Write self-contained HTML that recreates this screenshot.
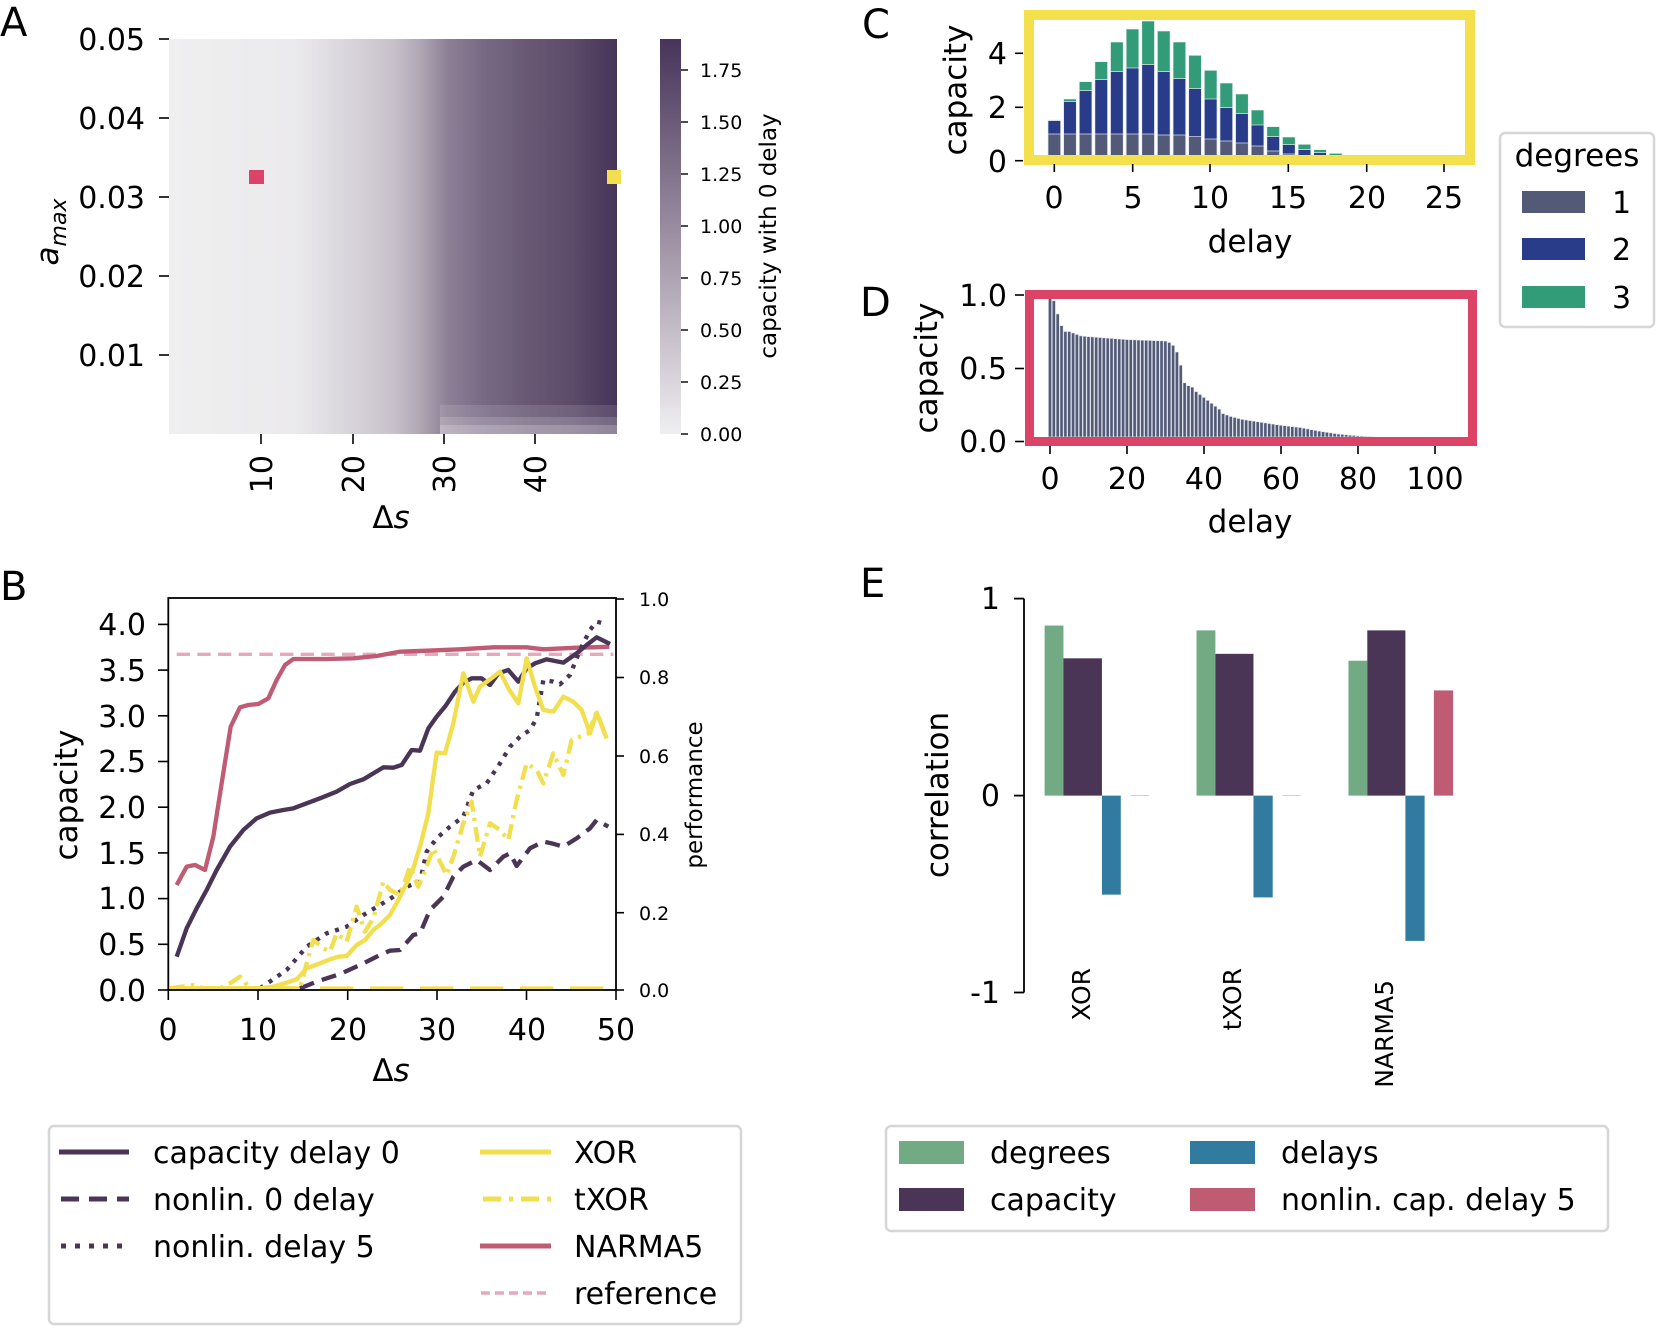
<!DOCTYPE html>
<html><head><meta charset="utf-8"><style>
html,body{margin:0;padding:0;background:#fff}
svg text{font-family:"DejaVu Sans","Liberation Sans",sans-serif;fill:#000}
</style></head><body>
<svg id="s" width="1656" height="1326" viewBox="0 0 1656 1326" xmlns="http://www.w3.org/2000/svg">
<defs>
<linearGradient id="hm" x1="0" x2="1" y1="0" y2="0">
<stop offset="0" stop-color="#efeff0"/>
<stop offset="0.28" stop-color="#ebeaec"/>
<stop offset="0.40" stop-color="#d9d5dc"/>
<stop offset="0.50" stop-color="#c8c1cb"/>
<stop offset="0.56" stop-color="#b0a7b5"/>
<stop offset="0.62" stop-color="#8e8196"/>
<stop offset="0.70" stop-color="#786a85"/>
<stop offset="0.80" stop-color="#685874"/>
<stop offset="0.90" stop-color="#5c4c6a"/>
<stop offset="0.96" stop-color="#4e3d5e"/>
<stop offset="1" stop-color="#46345a"/>
</linearGradient>
<linearGradient id="cb" x1="0" x2="0" y1="1" y2="0">
<stop offset="0" stop-color="#efeff0"/>
<stop offset="0.5" stop-color="#9d90a3"/>
<stop offset="1" stop-color="#46345a"/>
</linearGradient>
</defs>

<!-- Panel A -->
<text x="0" y="36" font-size="40">A</text>
<rect x="169" y="39" width="448" height="395" fill="url(#hm)"/>
<rect x="440" y="405" width="177" height="12" fill="#fff" opacity="0.12"/>
<rect x="440" y="417" width="177" height="8" fill="#fff" opacity="0.25"/>
<rect x="440" y="425" width="177" height="9" fill="#fff" opacity="0.4"/>
<rect x="249" y="170" width="15" height="14" fill="#dc4467"/>
<rect x="607" y="170" width="14" height="14" fill="#f2df4f"/>
<g stroke="#000" stroke-width="1.6">
<line x1="159" y1="39" x2="169" y2="39"/><line x1="159" y1="118" x2="169" y2="118"/>
<line x1="159" y1="197" x2="169" y2="197"/><line x1="159" y1="276" x2="169" y2="276"/>
<line x1="159" y1="355" x2="169" y2="355"/>
<line x1="261" y1="434" x2="261" y2="444"/><line x1="353" y1="434" x2="353" y2="444"/>
<line x1="444" y1="434" x2="444" y2="444"/><line x1="535" y1="434" x2="535" y2="444"/>
</g>
<g font-size="30" text-anchor="end">
<text x="145" y="50">0.05</text><text x="145" y="129">0.04</text><text x="145" y="208">0.03</text>
<text x="145" y="287">0.02</text><text x="145" y="366">0.01</text>
</g>
<g font-size="30" text-anchor="end">
<text transform="translate(272,455) rotate(-90)">10</text>
<text transform="translate(364,455) rotate(-90)">20</text>
<text transform="translate(455,455) rotate(-90)">30</text>
<text transform="translate(546,455) rotate(-90)">40</text>
</g>
<text x="391" y="528" font-size="31" text-anchor="middle">Δ<tspan font-style="italic">s</tspan></text>
<text transform="translate(58,232) rotate(-90)" font-size="31" text-anchor="middle"><tspan font-style="italic">a</tspan><tspan font-size="22" dy="8" font-style="italic">max</tspan></text>
<rect x="660" y="39" width="21" height="395" fill="url(#cb)"/>
<g stroke="#000" stroke-width="1.4">
<line x1="681" y1="434" x2="688" y2="434"/><line x1="681" y1="382" x2="688" y2="382"/>
<line x1="681" y1="330" x2="688" y2="330"/><line x1="681" y1="278" x2="688" y2="278"/>
<line x1="681" y1="226" x2="688" y2="226"/><line x1="681" y1="174" x2="688" y2="174"/>
<line x1="681" y1="122" x2="688" y2="122"/><line x1="681" y1="70" x2="688" y2="70"/>
</g>
<g font-size="19">
<text x="700" y="441">0.00</text><text x="700" y="389">0.25</text><text x="700" y="337">0.50</text>
<text x="700" y="285">0.75</text><text x="700" y="233">1.00</text><text x="700" y="181">1.25</text>
<text x="700" y="129">1.50</text><text x="700" y="77">1.75</text>
</g>
<text transform="translate(776,236) rotate(-90)" font-size="23" text-anchor="middle">capacity with 0 delay</text>

<!-- Panel B -->
<text x="0" y="600" font-size="40">B</text>
<g transform="translate(160,590) scale(0.33333)" fill="none" stroke-linejoin="round">
<line x1="30" y1="1195" x2="1365" y2="1195" stroke="#f2df4f" stroke-width="12" stroke-dasharray="100,50"/>
<line x1="50" y1="193" x2="1360" y2="193" stroke="#e4aabb" stroke-width="10" stroke-dasharray="40,22"/>
<polyline stroke="#c05b74" stroke-width="13" points="50,885 80,830 105,825 135,840 160,740 185,580 212,410 240,352 265,345 295,342 325,325 350,270 375,225 400,207 500,207 580,205 650,198 720,185 800,182 900,178 1000,172 1100,172 1150,178 1250,173 1300,172 1348,170"/>
<polyline stroke="#4a3557" stroke-width="13" points="50,1100 80,1015 110,955 140,900 170,840 210,770 250,720 290,685 330,668 370,660 400,655 440,640 480,625 530,605 570,582 610,568 640,550 670,532 700,533 725,525 755,480 780,482 805,415 830,380 855,350 885,305 910,278 935,265 965,265 990,285 1015,250 1045,240 1075,275 1100,235 1125,220 1160,208 1210,218 1250,190 1280,165 1310,142 1350,162"/>
<polyline stroke="#4a3557" stroke-width="13" stroke-dasharray="12,20" points="300,1195 380,1140 440,1070 500,1030 560,1010 610,975 660,945 700,920 740,890 780,875 800,785 830,745 870,710 910,680 940,600 980,580 1020,520 1050,470 1080,440 1110,420 1130,385 1150,270 1180,275 1200,283 1230,255 1260,180 1290,120 1310,95 1330,100"/>
<polyline stroke="#4a3557" stroke-width="13" stroke-dasharray="45,25" points="420,1195 470,1175 540,1152 600,1125 660,1095 690,1082 720,1080 760,1035 780,1030 810,960 850,920 880,860 910,830 950,810 990,840 1030,800 1050,790 1070,828 1110,775 1150,755 1175,760 1210,770 1250,745 1290,715 1310,690 1345,710"/>
<polyline stroke="#f2df4f" stroke-width="13" points="30,1195 300,1195 340,1190 380,1178 410,1168 440,1135 480,1120 510,1108 535,1100 560,1098 590,1065 615,1050 640,1020 665,1000 690,975 715,930 740,880 760,835 780,770 805,670 830,488 855,490 880,400 910,250 940,335 960,290 990,268 1020,245 1045,295 1075,340 1100,205 1125,290 1150,360 1180,365 1210,320 1240,335 1265,360 1290,430 1310,368 1340,445"/>
<polyline stroke="#f2df4f" stroke-width="13" stroke-dasharray="45,18,10,18" points="30,1195 100,1185 130,1195 180,1195 210,1180 240,1160 270,1195 350,1195 420,1195 440,1120 460,1050 490,1075 510,1085 530,1030 560,1055 590,950 615,1025 640,985 670,875 690,900 720,915 750,830 775,890 800,830 820,775 860,855 880,800 910,700 935,635 960,800 990,700 1020,720 1045,750 1070,630 1100,520 1130,540 1150,580 1180,490 1210,555 1235,450 1260,440 1285,430 1310,365 1340,445"/>
</g>
<rect x="168.3" y="598" width="447.7" height="392" fill="none" stroke="#000" stroke-width="1.8"/>
<g stroke="#000" stroke-width="1.6">
<line x1="158" y1="990" x2="168" y2="990"/><line x1="158" y1="944.3" x2="168" y2="944.3"/>
<line x1="158" y1="898.6" x2="168" y2="898.6"/><line x1="158" y1="852.9" x2="168" y2="852.9"/>
<line x1="158" y1="807.2" x2="168" y2="807.2"/><line x1="158" y1="761.5" x2="168" y2="761.5"/>
<line x1="158" y1="715.8" x2="168" y2="715.8"/><line x1="158" y1="670.1" x2="168" y2="670.1"/>
<line x1="158" y1="624.4" x2="168" y2="624.4"/>
<line x1="168.3" y1="990" x2="168.3" y2="1000"/><line x1="258" y1="990" x2="258" y2="1000"/>
<line x1="347.7" y1="990" x2="347.7" y2="1000"/><line x1="437" y1="990" x2="437" y2="1000"/>
<line x1="526.5" y1="990" x2="526.5" y2="1000"/><line x1="616" y1="990" x2="616" y2="1000"/>
<line x1="616" y1="990" x2="624" y2="990"/><line x1="616" y1="912.7" x2="624" y2="912.7"/>
<line x1="616" y1="834.4" x2="624" y2="834.4"/><line x1="616" y1="756" x2="624" y2="756"/>
<line x1="616" y1="677.5" x2="624" y2="677.5"/><line x1="616" y1="599" x2="624" y2="599"/>
</g>
<g font-size="30" text-anchor="end">
<text x="146" y="1001">0.0</text><text x="146" y="955">0.5</text><text x="146" y="909">1.0</text>
<text x="146" y="864">1.5</text><text x="146" y="818">2.0</text><text x="146" y="772">2.5</text>
<text x="146" y="727">3.0</text><text x="146" y="681">3.5</text><text x="146" y="635">4.0</text>
</g>
<g font-size="30" text-anchor="middle">
<text x="168" y="1040">0</text><text x="258" y="1040">10</text><text x="348" y="1040">20</text>
<text x="437" y="1040">30</text><text x="527" y="1040">40</text><text x="616" y="1040">50</text>
</g>
<g font-size="19">
<text x="639" y="997">0.0</text><text x="639" y="920">0.2</text><text x="639" y="841">0.4</text>
<text x="639" y="763">0.6</text><text x="639" y="684">0.8</text><text x="639" y="606">1.0</text>
</g>
<text x="391" y="1081" font-size="31" text-anchor="middle">Δ<tspan font-style="italic">s</tspan></text>
<text transform="translate(77,795) rotate(-90)" font-size="31" text-anchor="middle">capacity</text>
<text transform="translate(702,795) rotate(-90)" font-size="23" text-anchor="middle">performance</text>

<!-- Legend B -->
<rect x="49" y="1126" width="692" height="198" rx="5" fill="#fff" stroke="#d6d6d6" stroke-width="2.5"/>
<g stroke-width="5" fill="none">
<line x1="59" y1="1152" x2="129" y2="1152" stroke="#4a3557"/>
<line x1="61" y1="1199" x2="129" y2="1199" stroke="#4a3557" stroke-dasharray="18,10"/>
<line x1="61" y1="1246" x2="129" y2="1246" stroke="#4a3557" stroke-dasharray="5,9"/>
<line x1="480" y1="1152" x2="551" y2="1152" stroke="#f2df4f"/>
<line x1="483" y1="1199" x2="551" y2="1199" stroke="#f2df4f" stroke-dasharray="18,8,4,8"/>
<line x1="480" y1="1246" x2="551" y2="1246" stroke="#c05b74"/>
<line x1="481" y1="1293" x2="547" y2="1293" stroke="#e4aabb" stroke-width="3.5" stroke-dasharray="9,5"/>
</g>
<g font-size="30">
<text x="153" y="1163">capacity delay 0</text><text x="153" y="1210">nonlin. 0 delay</text>
<text x="153" y="1257">nonlin. delay 5</text>
<text x="574" y="1163">XOR</text><text x="574" y="1210">tXOR</text><text x="574" y="1257">NARMA5</text>
<text x="574" y="1304">reference</text>
</g>

<!-- Panel C -->
<text x="862" y="38" font-size="40">C</text>
<g transform="translate(1020,0) scale(0.33333)" id="cbars" stroke="#e8ecf0" stroke-width="2"></g>
<rect x="1029" y="15" width="441" height="145" fill="none" stroke="#f4df4c" stroke-width="10"/>
<g stroke="#000" stroke-width="1.6">
<line x1="1015" y1="53.3" x2="1023" y2="53.3"/><line x1="1015" y1="107.3" x2="1023" y2="107.3"/>
<line x1="1015" y1="160.7" x2="1023" y2="160.7"/>
<line x1="1054.3" y1="164" x2="1054.3" y2="172"/><line x1="1132.7" y1="164" x2="1132.7" y2="172"/>
<line x1="1210" y1="164" x2="1210" y2="172"/><line x1="1288.3" y1="164" x2="1288.3" y2="172"/>
<line x1="1366.7" y1="164" x2="1366.7" y2="172"/><line x1="1444" y1="164" x2="1444" y2="172"/>
</g>
<g font-size="30" text-anchor="end">
<text x="1007" y="64">4</text><text x="1007" y="118">2</text><text x="1007" y="172">0</text>
</g>
<g font-size="30" text-anchor="middle">
<text x="1054" y="208">0</text><text x="1133" y="208">5</text><text x="1210" y="208">10</text>
<text x="1288" y="208">15</text><text x="1367" y="208">20</text><text x="1444" y="208">25</text>
</g>
<text x="1250" y="252" font-size="31" text-anchor="middle">delay</text>
<text transform="translate(966,90) rotate(-90)" font-size="31" text-anchor="middle">capacity</text>

<!-- degrees legend -->
<rect x="1500" y="133" width="154" height="194" rx="5" fill="#fff" stroke="#d6d6d6" stroke-width="2.5"/>
<text x="1577" y="166" font-size="31" text-anchor="middle">degrees</text>
<rect x="1522" y="191" width="63" height="22" fill="#525a78"/>
<rect x="1522" y="238" width="63" height="22" fill="#283c8a"/>
<rect x="1522" y="286" width="63" height="22" fill="#329b77"/>
<g font-size="30"><text x="1612" y="213">1</text><text x="1612" y="260">2</text><text x="1612" y="308">3</text></g>

<!-- Panel D -->
<text x="860" y="316" font-size="40">D</text>
<g id="dbars" fill="#525a78" stroke="#dfe3ea" stroke-width="0.6"></g>
<rect x="1029.5" y="294.5" width="443" height="147" fill="none" stroke="#dc4467" stroke-width="9"/>
<g stroke="#000" stroke-width="1.6">
<line x1="1015" y1="295" x2="1024" y2="295"/><line x1="1015" y1="368.5" x2="1024" y2="368.5"/>
<line x1="1015" y1="441.5" x2="1024" y2="441.5"/>
<line x1="1050" y1="446" x2="1050" y2="454"/><line x1="1127" y1="446" x2="1127" y2="454"/>
<line x1="1204" y1="446" x2="1204" y2="454"/><line x1="1281" y1="446" x2="1281" y2="454"/>
<line x1="1358" y1="446" x2="1358" y2="454"/><line x1="1435" y1="446" x2="1435" y2="454"/>
</g>
<g font-size="30" text-anchor="end">
<text x="1007" y="306">1.0</text><text x="1007" y="379">0.5</text><text x="1007" y="452">0.0</text>
</g>
<g font-size="30" text-anchor="middle">
<text x="1050" y="489">0</text><text x="1127" y="489">20</text><text x="1204" y="489">40</text>
<text x="1281" y="489">60</text><text x="1358" y="489">80</text><text x="1435" y="489">100</text>
</g>
<text x="1250" y="532" font-size="31" text-anchor="middle">delay</text>
<text transform="translate(937,368) rotate(-90)" font-size="31" text-anchor="middle">capacity</text>

<!-- Panel E -->
<text x="860" y="597" font-size="40">E</text>
<g transform="translate(880,560) scale(0.384615,0.345)">
<rect x="428" y="190" width="49" height="493" fill="#72ab83"/>
<rect x="477" y="285" width="100" height="398" fill="#4a3557"/>
<rect x="577" y="683" width="49" height="287" fill="#327ba0"/>
<rect x="651" y="681" width="48" height="3" fill="#f0c4d0"/>
<rect x="823" y="204" width="49" height="479" fill="#72ab83"/>
<rect x="872" y="272" width="99" height="411" fill="#4a3557"/>
<rect x="971" y="683" width="50" height="295" fill="#327ba0"/>
<rect x="1046" y="681" width="48" height="3" fill="#f0c4d0"/>
<rect x="1218" y="292" width="49" height="391" fill="#72ab83"/>
<rect x="1267" y="204" width="99" height="479" fill="#4a3557"/>
<rect x="1366" y="683" width="50" height="421" fill="#327ba0"/>
<rect x="1440" y="378" width="50" height="305" fill="#c05b74"/>
</g>
<g stroke="#000" stroke-width="1.8">
<line x1="1024" y1="598.6" x2="1024" y2="992.5"/>
<line x1="1014" y1="598.6" x2="1024" y2="598.6"/><line x1="1014" y1="795.6" x2="1024" y2="795.6"/>
<line x1="1014" y1="992.5" x2="1024" y2="992.5"/>
</g>
<g font-size="30" text-anchor="end">
<text x="1000" y="609">1</text><text x="1000" y="806">0</text><text x="1000" y="1003">-1</text>
</g>
<g font-size="25" text-anchor="end">
<text transform="translate(1090,968) rotate(-90)">XOR</text>
<text transform="translate(1241,968) rotate(-90)">tXOR</text>
<text transform="translate(1393,980) rotate(-90)">NARMA5</text>
</g>
<text transform="translate(948,795) rotate(-90)" font-size="31" text-anchor="middle">correlation</text>

<!-- Legend E -->
<rect x="886" y="1126" width="722" height="105" rx="5" fill="#fff" stroke="#d6d6d6" stroke-width="2.5"/>
<rect x="899" y="1141" width="65" height="23" fill="#72ab83"/>
<rect x="899" y="1188" width="65" height="23" fill="#4a3557"/>
<rect x="1190" y="1141" width="65" height="23" fill="#327ba0"/>
<rect x="1190" y="1188" width="65" height="23" fill="#c05b74"/>
<g font-size="30">
<text x="990" y="1163">degrees</text><text x="990" y="1210">capacity</text>
<text x="1281" y="1163">delays</text><text x="1281" y="1210">nonlin. cap. delay 5</text>
</g>
</svg>
<script>
(function(){
var NS="http://www.w3.org/2000/svg";
function R(g,x,y,w,h,f){var r=document.createElementNS(NS,"rect");r.setAttribute("x",x);r.setAttribute("y",y);r.setAttribute("width",w);r.setAttribute("height",h);if(f)r.setAttribute("fill",f);g.appendChild(r);}
var cg=document.getElementById("cbars");
var gr=[402,402,402,402,402,402,402,405,405,410,417,423,429,438,453,462,466,467,467];
var bl=[362,305,272,239,215,204,194,215,236,266,297,323,341,375,410,434,449,458,466];
var gn=[360,297,245,185,126,87,63,93,126,166,211,249,282,330,380,411,433,449,460];
for(var d=0;d<19;d++){var cx=103+d*46.9,x=cx-19;
 R(cg,x,gn[d],38,467-gn[d],"#329b77");
 if(bl[d]<467)R(cg,x,bl[d],38,467-bl[d],"#283c8a");
 if(gr[d]<467)R(cg,x,gr[d],38,467-gr[d],"#525a78");}
var dg=document.getElementById("dbars");
var kp=[[0,.96],[1,.93],[2,.84],[3,.76],[4,.72],[5,.72],[6,.71],[7,.70],[8,.69],[10,.685],[20,.665],[30,.655],[31,.645],[32,.625],[33,.58],[34,.49],[35,.37],[36,.35],[37,.34],[38,.31],[39,.29],[40,.27],[42,.23],[44,.19],[45,.16],[47,.14],[50,.12],[55,.10],[60,.08],[65,.065],[70,.04],[75,.02],[80,.008],[85,0]];
function val(d){for(var i=0;i<kp.length-1;i++){if(d>=kp[i][0]&&d<=kp[i+1][0]){var t=(d-kp[i][0])/(kp[i+1][0]-kp[i][0]);return kp[i][1]+t*(kp[i+1][1]-kp[i][1]);}}return 0;}
for(var d=0;d<85;d++){var v=val(d);if(v<=0)continue;var h=v*146.5;R(dg,1050+d*3.846-1.6,437-h,3.2,h);}
})();
</script>
</body></html>
